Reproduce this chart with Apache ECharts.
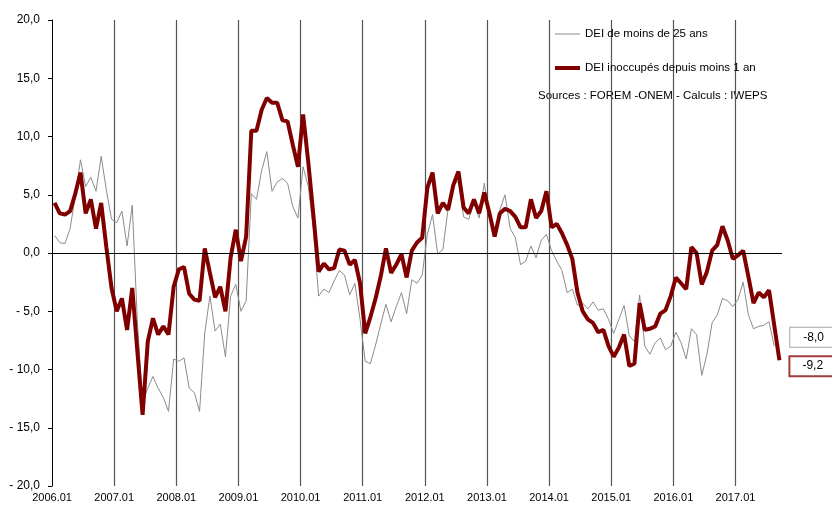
<!DOCTYPE html>
<html>
<head>
<meta charset="utf-8">
<script src="https://cdn.jsdelivr.net/npm/echarts@6/dist/echarts.min.js"></script>
<style>
html, body { margin: 0; padding: 0; background: #fff; }
#chart { width: 832px; height: 510px; }
</style>
</head>
<body>
<div id="chart"></div>
<script>
// mois de 2006.01 a 2017.09
var firstYear = 2006;
var monthCount = 141;
var months = [];
for (var i = 0; i < monthCount; i++) {
    var m = (i % 12) + 1;
    months.push((firstYear + Math.floor(i / 12)) + '.' + (m < 10 ? '0' + m : m));
}

var nameYoung = 'DEI de moins de 25 ans';
var nameRecent = 'DEI inoccupés depuis moins 1 an';
var sourceText = 'Sources : FOREM -ONEM - Calculs : IWEPS';

// DEI de moins de 25 ans (jusqu'a 2017.08)
var young = [
    1.5, 0.9, 0.8, 2.1, 4.9, 8.0, 5.7, 6.5, 5.3, 8.3, 5.4, 2.9,
    2.6, 3.6, 0.6, 4.1, -6.0, -12.8, -11.6, -10.6, -11.6, -12.4, -13.6, -9.1,
    -9.3, -9.0, -11.6, -12.0, -13.6, -6.9, -3.7, -6.7, -6.1, -8.9, -3.7, -2.7,
    -5.0, -4.1, 5.1, 4.6, 7.1, 8.7, 5.3, 6.1, 6.4, 6.0, 4.0, 3.0,
    7.4, 5.7, 2.0, -3.7, -3.1, -3.4, -2.4, -1.5, -1.9, -3.6, -2.6, -5.7,
    -9.3, -9.5, -7.9, -6.1, -4.4, -5.9, -4.6, -3.4, -5.2, -2.3, -2.6, -1.9,
    1.6, 3.3, -0.1, 0.3, 3.8, 6.0, 6.1, 3.1, 2.9, 4.4, 3.0, 6.0,
    3.0, 1.8, 3.7, 5.0, 2.1, 1.3, -1.0, -0.7, 0.6, -0.4, 1.1, 1.6,
    0.2, -0.7, -1.5, -3.4, -3.1, -4.5, -4.3, -4.8, -4.2, -4.9, -4.8, -5.7,
    -6.9, -5.7, -4.5, -7.1, -7.6, -3.6, -8.0, -8.7, -7.7, -7.3, -8.3, -8.0,
    -6.8, -7.7, -9.1, -6.5, -7.0, -10.5, -8.7, -6.0, -5.3, -3.9, -4.1, -4.6,
    -4.0, -2.5, -5.3, -6.5, -6.3, -6.2, -5.9, -8.0
];

// DEI inoccupés depuis moins 1 an (jusqu'a 2017.09)
var recent = [
    4.3, 3.4, 3.3, 3.6, 5.1, 6.9, 3.4, 4.6, 2.1, 4.3, 0.5, -3.0,
    -5.0, -3.9, -6.6, -3.0, -8.5, -13.9, -7.6, -5.6, -7.0, -6.3, -7.0, -2.9,
    -1.4, -1.2, -3.5, -4.0, -4.1, 0.4, -1.7, -3.8, -2.9, -5.0, -0.4, 2.0,
    -0.7, 1.4, 10.5, 10.5, 12.3, 13.3, 12.9, 12.9, 11.4, 11.3, 9.3, 7.4,
    11.9, 7.8, 3.2, -1.6, -0.9, -1.4, -1.3, 0.3, 0.2, -1.0, -0.6, -2.6,
    -6.9, -5.5, -3.9, -2.0, 0.4, -1.7, -1.0, -0.1, -2.1, 0.2, 0.9, 1.3,
    5.6, 6.9, 3.4, 4.3, 3.7, 5.8, 7.0, 3.9, 3.4, 4.6, 3.4, 5.2,
    3.4, 1.4, 3.4, 3.8, 3.6, 3.1, 2.2, 2.2, 4.6, 3.0, 3.6, 5.3,
    2.2, 2.5, 1.7, 0.7, -0.5, -3.4, -5.0, -5.7, -6.0, -6.8, -6.6, -8.0,
    -8.9, -8.1, -7.0, -9.7, -9.5, -4.3, -6.6, -6.5, -6.3, -5.2, -4.9, -3.7,
    -2.1, -2.6, -3.1, 0.5, 0.0, -2.7, -1.6, 0.2, 0.7, 2.3, 1.1, -0.5,
    -0.2, 0.2, -2.0, -4.3, -3.4, -3.8, -3.2, -6.2, -9.2
];

function frNum(v) {
    return v.toFixed(1).replace('.', ',');
}

// legend icons: a thin sliver fixes the box height, then a horizontal bar
var thinIcon = 'path://M0,0 L0.01,0 L0.01,4 L0,4 Z M0,1.5 L25,1.5 L25,2.5 L0,2.5 Z';
var thickIcon = 'path://M0,0 L25,0 L25,4 L0,4 Z';

var font = 'Liberation Sans, Arial, sans-serif';
var myChart = echarts.init(document.getElementById('chart'));

var option = {
    animation: false,
    backgroundColor: '#fff',
    textStyle: { fontFamily: font },
    grid: { left: 52, right: 50, top: 20, bottom: 24 },
    legend: {
        orient: 'vertical',
        left: 550,
        top: 23,
        itemWidth: 25,
        itemHeight: 4,
        itemGap: 22,
        symbolKeepAspect: false,
        textStyle: { fontSize: 11.5, color: '#000', fontFamily: font },
        data: [
            { name: nameYoung, icon: thinIcon },
            { name: nameRecent, icon: thickIcon }
        ]
    },
    graphic: [{
        type: 'text',
        left: 538,
        top: 90,
        style: { text: sourceText, fontSize: 11.5, fill: '#000', fontFamily: font }
    }],
    xAxis: {
        type: 'category',
        data: months,
        boundaryGap: true,
        axisLine: { show: false },
        axisTick: { show: false },
        axisLabel: {
            interval: function (index) { return index % 12 === 0; },
            color: '#000',
            fontSize: 11,
            margin: 6,
            padding: [0, 5, 0, 0]
        },
        splitLine: {
            show: true,
            showMinLine: false,
            showMaxLine: false,
            interval: function (index) { return index % 12 === 0; },
            lineStyle: { color: '#555', width: 1.2 }
        }
    },
    yAxis: {
        type: 'value',
        min: -20,
        max: 20,
        interval: 5,
        axisLine: { show: true, lineStyle: { color: '#000', width: 1 } },
        axisTick: { show: true, length: 4, lineStyle: { color: '#000' } },
        splitLine: { show: false },
        axisLabel: {
            color: '#000',
            fontSize: 12,
            margin: 12,
            formatter: function (v) {
                return (v < 0 ? '- ' : '') + frNum(Math.abs(v));
            }
        }
    },
    series: [
        {
            name: nameYoung,
            type: 'line',
            data: young,
            symbol: 'none',
            lineStyle: { color: '#8c8c8c', width: 1 },
            itemStyle: { color: '#8c8c8c' },
            endLabel: {
                show: true,
                formatter: function (p) { return frNum(p.value); },
                color: '#000',
                fontSize: 12,
                backgroundColor: '#fff',
                borderColor: '#a6a6a6',
                borderWidth: 1,
                padding: [3, 24, 4, 13],
                offset: [8, -9]
            },
            markLine: {
                silent: true,
                symbol: ['none', 'none'],
                label: { show: false },
                lineStyle: { color: '#000', width: 1, type: 'solid' },
                data: [{ yAxis: 0 }]
            }
        },
        {
            name: nameRecent,
            type: 'line',
            data: recent,
            symbol: 'none',
            lineStyle: { color: '#800000', width: 4 },
            itemStyle: { color: '#800000' },
            endLabel: {
                show: true,
                formatter: function (p) { return frNum(p.value); },
                color: '#000',
                fontSize: 12,
                backgroundColor: '#fff',
                borderColor: '#a03c3c',
                borderWidth: 2,
                padding: [3, 24, 3, 12],
                offset: [3, 6]
            }
        }
    ]
};

myChart.setOption(option);
</script>
</body>
</html>
